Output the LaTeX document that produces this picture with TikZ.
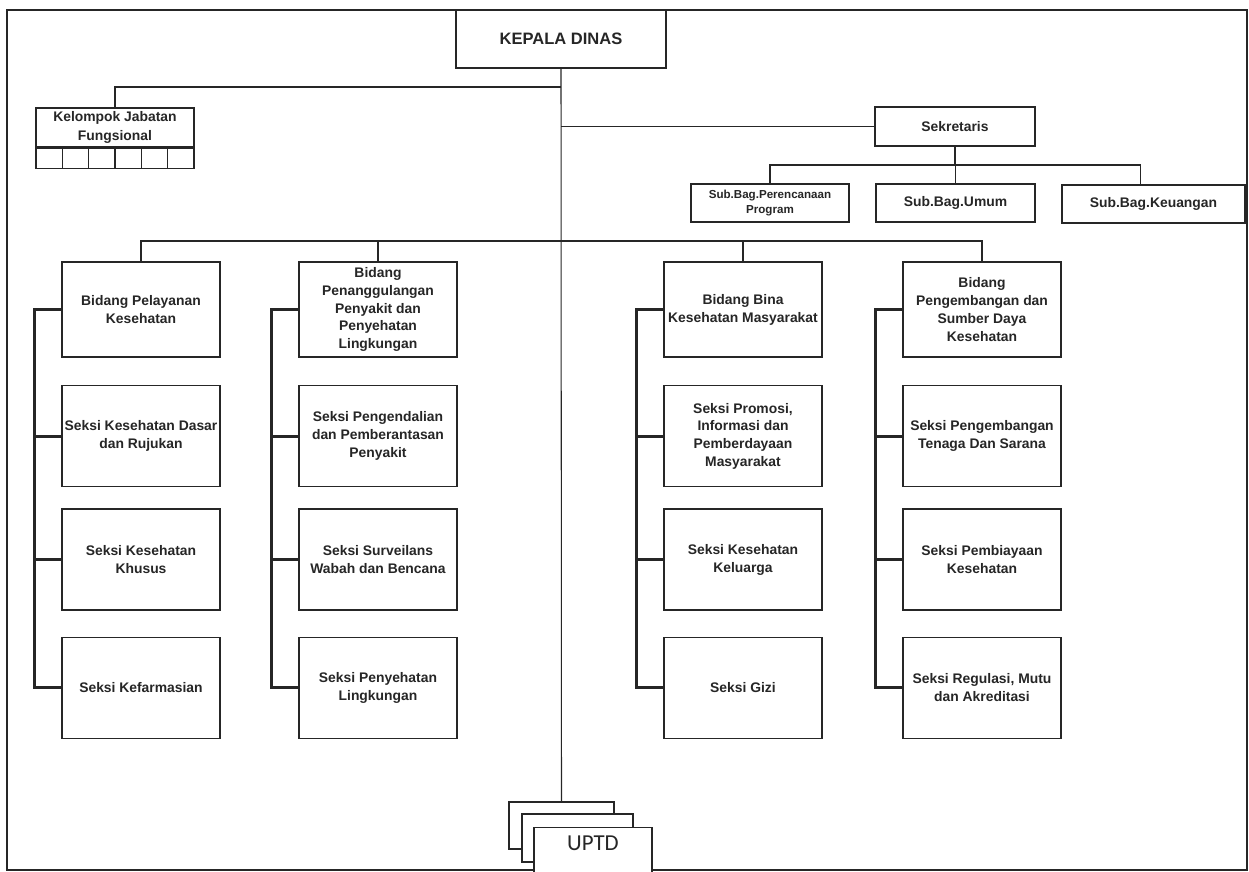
\documentclass[tikz,border=0pt]{standalone}
\usepackage{fontspec}
\setmainfont{Liberation Sans}
\newfontfamily\uptdfont{Carlito}
\usetikzlibrary{positioning,calc}

\begin{document}
\begin{tikzpicture}[x=0.02cm, y=-0.02cm, color=black!85, line width=0.6pt,
    every node/.style={align=center, font=\bfseries\fontsize{7.9}{10.2}\selectfont},
    bidang/.style={draw, line width=1.4pt, fill=white, minimum width=3.16cm, minimum height=1.9cm, inner sep=1pt},
    seksi/.style={draw, line width=0.7pt, fill=white, minimum width=3.16cm, minimum height=2.02cm, inner sep=1pt},
    subbag/.style={draw, line width=0.7pt, fill=white, minimum height=0.76cm, inner sep=1pt},
    kaki/.style={line width=1.5pt},
    uptd/.style={draw, line width=0.6pt, fill=white}]

        \useasboundingbox (0,0) rectangle (1249,872);

        %frame
        \draw (7,10) rectangle (1247,870);

        %kepala dinas
        \node[draw, line width=1.4pt, fill=white,
            minimum width=4.2cm,
            minimum height=1.16cm,
            font=\bfseries\fontsize{9.4}{11}\selectfont] (kd) at (561,39) {KEPALA DINAS};

        %kelompok jabatan fungsional
        \node[draw, line width=0.7pt,
            minimum width=3.16cm,
            minimum height=0.78cm,
            inner sep=1pt,
            font=\bfseries\fontsize{7.9}{11.2}\selectfont] (kjf) at (115,127.5) {Kelompok Jabatan\\Fungsional};
        \foreach \i in {1,...,6}
            \node[draw, line width=0.7pt, anchor=north west,
                minimum width=0.5267cm, minimum height=0.4cm,
                inner sep=0pt] (kjf\i) at ($(kjf.south west)+(26.33*\i-26.33,0)$) {};

        %sekretaris
        \node[draw, line width=1.4pt, fill=white,
            minimum width=3.2cm,
            minimum height=0.78cm] (sek) at (955,126.5) {Sekretaris};

        \node[subbag, minimum width=3.16cm,
            font=\bfseries\fontsize{6.6}{8.5}\selectfont] (sbp) at (770,203) {Sub.Bag.Perencanaan\\Program};
        \node[subbag, minimum width=3.18cm] (sbu) at (955.5,203) {Sub.Bag.Umum};
        \node[subbag, minimum width=3.66cm] (sbk) at (1153.5,204) {Sub.Bag.Keuangan};

        %bidang
        \node[bidang] (bpk) at (141,309.5) {Bidang Pelayanan\\Kesehatan};
        \node[bidang] (bpp) at (378,309.5) {Bidang\\Penanggulangan\\Penyakit dan\\Penyehatan\\Lingkungan};
        \node[bidang] (bbk) at (743,309.5) {Bidang Bina\\Kesehatan Masyarakat};
        \node[bidang] (bps) at (982,309.5) {Bidang\\Pengembangan dan\\Sumber Daya\\Kesehatan};

        %seksi bidang pelayanan
        \node[seksi, below=0.54cm of bpk] (sk1) {Seksi Kesehatan Dasar\\dan Rujukan};
        \node[seksi, below=0.42cm of sk1] (sk2) {Seksi Kesehatan\\Khusus};
        \node[seksi, below=0.52cm of sk2] (sk3) {Seksi Kefarmasian};

        %seksi bidang penanggulangan
        \node[seksi, below=0.54cm of bpp] (sp1) {Seksi Pengendalian\\dan Pemberantasan\\Penyakit};
        \node[seksi, below=0.42cm of sp1] (sp2) {Seksi Surveilans\\Wabah dan Bencana};
        \node[seksi, below=0.52cm of sp2] (sp3) {Seksi Penyehatan\\Lingkungan};

        %seksi bidang bina
        \node[seksi, below=0.54cm of bbk] (sb1) {Seksi Promosi,\\Informasi dan\\Pemberdayaan\\Masyarakat};
        \node[seksi, below=0.42cm of sb1] (sb2) {Seksi Kesehatan\\Keluarga};
        \node[seksi, below=0.52cm of sb2] (sb3) {Seksi Gizi};

        %seksi bidang pengembangan
        \node[seksi, below=0.54cm of bps] (sd1) {Seksi Pengembangan\\Tenaga Dan Sarana};
        \node[seksi, below=0.42cm of sd1] (sd2) {Seksi Pembiayaan\\Kesehatan};
        \node[seksi, below=0.52cm of sd2] (sd3) {Seksi Regulasi, Mutu\\dan Akreditasi};

        %uptd
        \node[uptd, minimum width=2.1cm, minimum height=0.94cm] (u1) at (561.5,825.5) {};
        \node[uptd, minimum width=2.22cm, minimum height=0.96cm] (u2) at (577.5,838) {};
        \node[uptd, anchor=north,
            minimum width=2.36cm,
            inner ysep=4.5pt, text depth=18pt,
            font=\uptdfont\fontsize{13}{15}\selectfont] (u3) at (593,827) {UPTD};

        %garis
        \coordinate (jkjf) at (561,87);
        \coordinate (jsek) at (955,165);
        \coordinate (jbid) at (561,241);

        \draw (kd.south) -- (u1.north);
        \draw (jkjf) -| (kjf.north);
        \draw (kd.south |- sek.west) -- (sek.west);

        \draw (sek.south) -- (jsek);
        \draw (sbp.north) |- (jsek) -| ($(sbk.north)+(-13,0)$);
        \draw (sbu.north) -- (sbu.north |- jsek);

        \draw (bpk.north) |- (jbid) -| (bps.north);
        \draw (bpp.north) -- (bpp.north |- jbid);
        \draw (bbk.north) -- (bbk.north |- jbid);

        \foreach \b/\s in {bpk/sk, bpp/sp, bbk/sb, bps/sd} {
            \draw[kaki] (\b.west) -- ++(-26,0) |- (\s3.west);
            \draw[kaki] (\s1.west) -- ++(-26,0);
            \draw[kaki] (\s2.west) -- ++(-26,0);
        }

\end{tikzpicture}
\end{document}
